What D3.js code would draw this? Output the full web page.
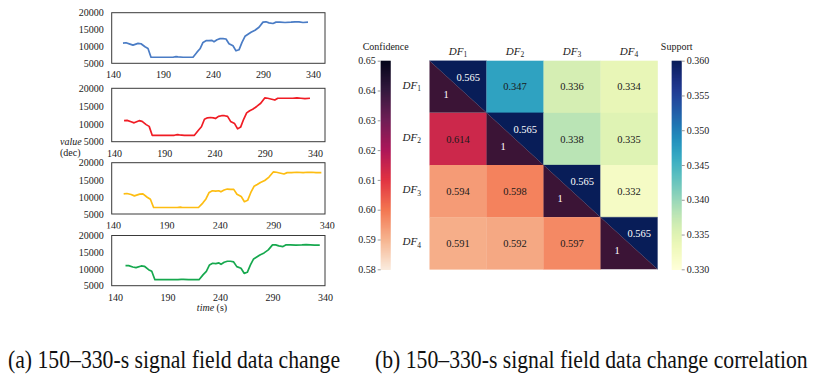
<!DOCTYPE html>
<html>
<head>
<meta charset="utf-8">
<script src="https://cdn.jsdelivr.net/npm/d3@7"></script>
<style>
  body { margin: 0; background: #fff; }
  svg { display: block; font-family: "Liberation Serif", Tinos, "Times New Roman", Times, "DejaVu Serif", serif; }
</style>
</head>
<body>
<svg id="chart" width="819" height="375"></svg>
<script>
"use strict";

// sample times (s), shared by the four field traces
let timeSec = [150, 153, 157, 160, 165, 168, 172, 175, 178, 185, 195, 200, 203, 205, 210, 215, 220, 224, 227, 230,
  233, 236, 239, 241, 244, 247, 250, 253, 256, 260, 263, 266, 269, 272, 275, 278, 282, 286, 290, 293,
  296, 300, 303, 307, 312, 318, 322, 326, 330, 335];

// signal field values (dec)
let fieldBlue = [11000, 11100, 10700, 10400, 10900, 10800, 9900, 9400, 6800, 6800, 6800, 6800, 7000, 6900, 6800, 6800, 6800, 8300, 9300, 11200,
  11700, 11700, 11800, 11400, 12000, 12300, 12300, 12200, 10800, 10200, 8700, 9000, 11200, 13000, 13600, 14200, 14800, 15700, 17200, 17300,
  17000, 16800, 17200, 17200, 17100, 17200, 17300, 17300, 17100, 17200];
let fieldRed = [10900, 11000, 10600, 10300, 10900, 10700, 9800, 9300, 6800, 6800, 6800, 6800, 7000, 6900, 6800, 6800, 6800, 8200, 9200, 11300,
  11700, 11800, 11700, 11500, 12100, 12300, 12300, 12100, 10700, 10100, 8600, 9100, 11300, 13100, 13700, 14100, 14900, 15800, 17300, 17200,
  17000, 16700, 17200, 17200, 17200, 17200, 17300, 17200, 17100, 17200];
let fieldYellow = [10900, 11000, 10700, 10300, 10800, 10900, 9900, 9300, 6900, 6900, 6900, 6900, 7000, 6900, 6900, 6900, 6900, 8200, 9400, 11300,
  11800, 11700, 11800, 11500, 12000, 12300, 12200, 12200, 10800, 10100, 8600, 9000, 11300, 13100, 13600, 14200, 14800, 15800, 17300, 17200,
  17000, 16700, 17100, 17100, 17200, 17100, 17200, 17200, 17100, 17100];
let fieldGreen = [11000, 11000, 10600, 10400, 10900, 10800, 9800, 9300, 6800, 6800, 6800, 6800, 6900, 6900, 6800, 6800, 6800, 8300, 9300, 11200,
  11700, 11600, 11800, 11400, 12000, 12300, 12300, 12100, 10700, 10200, 8700, 9000, 11200, 13000, 13600, 14200, 14800, 15700, 17200, 17200,
  16900, 16700, 17200, 17200, 17100, 17200, 17300, 17200, 17100, 17100];

let timeTicks = [140, 190, 240, 290, 340];
let valueTicks = [5000, 10000, 15000, 20000];

// correlation matrix: upper triangle = support, lower = confidence, diagonal split
let dfNames = ["1", "2", "3", "4"];
let supportVals = [
  [0.565, 0.347, 0.336, 0.334],
  [null, 0.565, 0.338, 0.335],
  [null, null, 0.565, 0.332],
  [null, null, null, 0.565]
];
let confidenceVals = [
  [1, null, null, null],
  [0.614, 1, null, null],
  [0.594, 0.598, 1, null],
  [0.591, 0.592, 0.597, 1]
];
let confTicks = [0.58, 0.59, 0.60, 0.61, 0.62, 0.63, 0.64, 0.65];
let supportTicks = [0.330, 0.335, 0.340, 0.345, 0.350, 0.355, 0.360];

const svg = d3.select("#chart");
const serif = '"Liberation Serif", Tinos, "Times New Roman", Times, "DejaVu Serif", serif';

// ---------- (a) four stacked line panels ----------
let panels = [
  { series: fieldBlue, color: "#4a7cc5", top: 12.7, bottom: 63.3, x0: 113, x1: 313 },
  { series: fieldRed, color: "#f01c24", top: 88.3, bottom: 141.7, x0: 114, x1: 315 },
  { series: fieldYellow, color: "#fdbd12", top: 162.7, bottom: 214, x0: 113, x1: 326.7 },
  { series: fieldGreen, color: "#16a84e", top: 235.5, bottom: 285.7, x0: 115, x1: 325 }
];
const boxLeft = 111.7, boxRight = 325;

function drawPanel(p, idx) {
  let g = svg.append("g");
  let x = d3.scaleLinear().domain([140, 340]).range([p.x0, p.x1]);
  let y = d3.scaleLinear().domain([5000, 20000]).range([p.bottom, p.top]);

  if (idx === 3) {
    // chart area of the last panel hides the bottom of the labels above it
    g.append("rect").attr("x", 100).attr("y", 228.6).attr("width", 240).attr("height", p.top - 228.6).attr("fill", "#fff");
  }

  g.append("rect")
    .attr("x", boxLeft).attr("y", p.top)
    .attr("width", boxRight - boxLeft).attr("height", p.bottom - p.top)
    .attr("fill", "#fff").attr("stroke", "#3a3a3a").attr("stroke-width", 1);

  g.append("g")
    .attr("transform", `translate(${boxLeft},0)`)
    .call(d3.axisLeft(y).tickValues(valueTicks).tickFormat(d3.format("d")).tickSize(0).tickPadding(8))
    .call(a => a.select(".domain").remove())
    .attr("font-family", serif).attr("font-size", 10).attr("color", "#1a1a1a");

  g.append("g")
    .attr("transform", `translate(0,${p.bottom})`)
    .call(d3.axisBottom(x).tickValues(timeTicks).tickFormat(d3.format("d")).tickSize(0).tickPadding(8))
    .call(a => a.select(".domain").remove())
    .attr("font-family", serif).attr("font-size", 10).attr("color", "#1a1a1a");

  let pts = timeSec.map((t, i) => ({ t: t, v: p.series[i] }));
  g.append("path")
    .datum(pts)
    .attr("fill", "none")
    .attr("stroke", p.color)
    .attr("stroke-width", 1.7)
    .attr("stroke-linejoin", "round")
    .attr("d", d3.line().x(d => x(d.t)).y(d => y(d.v)));
}

panels.forEach(drawPanel);

// axis titles
let vt = svg.append("g").attr("font-size", 10).attr("fill", "#1a1a1a");
vt.append("text").attr("x", 60).attr("y", 145).attr("font-style", "italic").text("value");
vt.append("text").attr("x", 60).attr("y", 155.5).text("(dec)");
let tt = svg.append("text").attr("x", 212).attr("y", 310.5).attr("text-anchor", "middle")
  .attr("font-size", 10).attr("fill", "#1a1a1a");
tt.append("tspan").attr("font-style", "italic").text("time");
tt.append("tspan").text(" (s)");

// ---------- (b) correlation heatmap ----------
const hmTop = 60.7, hmBottom = 269.3;
let hx = d3.scaleBand().domain(d3.range(4)).range([429.5, 657.5]);
let hy = d3.scaleBand().domain(d3.range(4)).range([hmTop, hmBottom]);

// seaborn "rocket", reversed so light = low
let rocketStops = ["#03051a", "#35193e", "#701f57", "#ad1759", "#e13342", "#f37651", "#f6b48f", "#faebdd"];
let confColor = d3.scaleSequential(d3.piecewise(d3.interpolateRgb, rocketStops.slice().reverse()))
  .domain([0.58, 0.65]).clamp(true);
let supColor = d3.scaleSequential(d3.interpolateYlGnBu).domain([0.33, 0.36]).clamp(true);

let cells = [];
for (let r = 0; r < 4; r++) {
  for (let c = 0; c < 4; c++) {
    cells.push({ r: r, c: c, sup: supportVals[r][c], conf: confidenceVals[r][c] });
  }
}

let hm = svg.append("g");
cells.forEach(d => {
  let x0 = hx(d.c), y0 = hy(d.r), w = hx.bandwidth(), h = hy.bandwidth();
  if (d.r === d.c) {
    hm.append("polygon")
      .attr("points", [[x0, y0], [x0 + w, y0], [x0 + w, y0 + h]].join(" "))
      .attr("fill", supColor(d.sup)).attr("stroke", supColor(d.sup)).attr("stroke-width", 0.3);
    hm.append("polygon")
      .attr("points", [[x0, y0], [x0, y0 + h], [x0 + w, y0 + h]].join(" "))
      .attr("fill", "#3b1436");
    hm.append("text").attr("x", x0 + w * 0.68).attr("y", y0 + h * 0.31).attr("dy", "0.35em")
      .attr("text-anchor", "middle").attr("font-size", 10.5).attr("fill", "#fff").text(d.sup.toFixed(3));
    hm.append("text").attr("x", x0 + w * 0.29).attr("y", y0 + h * 0.64).attr("dy", "0.35em")
      .attr("text-anchor", "middle").attr("font-size", 10.5).attr("fill", "#fff").text(d.conf);
  } else {
    let v = d.c > d.r ? d.sup : d.conf;
    let col = d.c > d.r ? supColor(v) : confColor(v);
    hm.append("rect").attr("x", x0).attr("y", y0).attr("width", w + 0.3).attr("height", h + 0.3).attr("fill", col);
    hm.append("text").attr("x", x0 + w / 2).attr("y", y0 + h / 2).attr("dy", "0.35em")
      .attr("text-anchor", "middle").attr("font-size", 10.5).attr("fill", "#1a1a1a").text(v.toFixed(3));
  }
});

function dfLabel(sel) {
  sel.append("tspan").attr("font-style", "italic").text("DF");
  sel.append("tspan").attr("font-size", 7.5).attr("dy", 2.5).text(d => d);
}

svg.append("g").selectAll("text").data(dfNames).join("text")
  .attr("x", (d, i) => hx(i) + hx.bandwidth() / 2).attr("y", 54.5)
  .attr("text-anchor", "middle").attr("font-size", 11).attr("fill", "#1a1a1a")
  .call(dfLabel);

svg.append("g").selectAll("text").data(dfNames).join("text")
  .attr("x", 421).attr("y", (d, i) => hy(i) + hy.bandwidth() / 2 + 2)
  .attr("text-anchor", "end").attr("font-size", 11).attr("fill", "#1a1a1a")
  .call(dfLabel);

// ---------- colour bars ----------
function colorBar(x, domain, color, ticks, fmt, side, title) {
  let cy = d3.scaleLinear().domain(domain).range([hmBottom, hmTop]);
  let g = svg.append("g");
  let steps = d3.range(hmTop, hmBottom, 1);
  g.selectAll("rect").data(steps).join("rect")
    .attr("x", x).attr("y", d => d).attr("width", 10).attr("height", 1.3)
    .attr("fill", d => color(cy.invert(d + 0.5)));
  let axis = side === "left" ? d3.axisLeft(cy) : d3.axisRight(cy);
  g.append("g")
    .attr("transform", `translate(${side === "left" ? x : x + 10},0)`)
    .call(axis.tickValues(ticks).tickFormat(d3.format(fmt)).tickSize(3).tickPadding(2))
    .call(a => a.select(".domain").remove())
    .call(a => a.selectAll("line").attr("stroke", "#999"))
    .attr("font-family", serif).attr("font-size", 10).attr("color", "#1a1a1a");
  g.append("text").attr("x", x + 5).attr("y", 49.5).attr("text-anchor", "middle")
    .attr("font-size", 10).attr("fill", "#1a1a1a").text(title);
}

colorBar(380.7, [0.58, 0.65], confColor, confTicks, ".2f", "left", "Confidence");
colorBar(671.7, [0.33, 0.36], supColor, supportTicks, ".3f", "right", "Support");

// ---------- captions (tall, narrow Times look) ----------
svg.append("text").attr("transform", "translate(8,368) scale(1,1.16)")
  .attr("font-size", 21.7).attr("fill", "#111")
  .text("(a) 150\u2013330-s signal field data change");
svg.append("text").attr("transform", "translate(375,368) scale(1,1.16)")
  .attr("font-size", 21.7).attr("fill", "#111")
  .text("(b) 150\u2013330-s signal field data change correlation");
</script>
</body>
</html>
